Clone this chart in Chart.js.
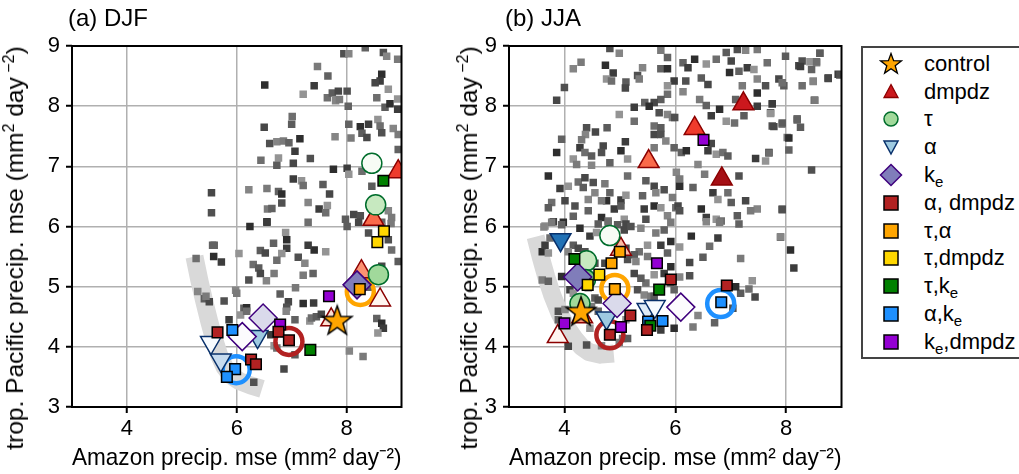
<!DOCTYPE html>
<html>
<head>
<meta charset="utf-8">
<script src="https://cdn.jsdelivr.net/npm/chart.js@4.4.1/dist/chart.umd.min.js"></script>
<style>
	body { margin: 0; width: 1019px; height: 474px; overflow: hidden; background: #fff; font-family: "Liberation Sans", Arial, sans-serif; }
	canvas { position: absolute; top: 0; }
	.ptitle { position: absolute; top: 4px; font-size: 24px; color: #000; }
	.ytitle { position: absolute; top: 248px; font-size: 24.5px; white-space: nowrap; transform: translate(-50%, -50%) rotate(-90deg); }
	.ytitle sup { font-size: 16px; line-height: 0; }
	#legend { position: absolute; left: 861px; top: 46px; width: 200px; height: 309px; border: 2px solid #444; }
	.row { position: absolute; left: 0; height: 28px; display: flex; align-items: center; font-size: 22px; }
	.row svg { position: absolute; left: 16px; }
	.row span { position: absolute; left: 61px; white-space: nowrap; }
	sub { font-size: 15px; vertical-align: -5px; line-height: 0; }
</style>
</head>
<body>
<canvas id="djf" width="420" height="474" style="left:0"></canvas>
<canvas id="jja" width="420" height="474" style="left:440px"></canvas>
<div class="ptitle" style="left:68px">(a) DJF</div>
<div class="ptitle" style="left:505px">(b) JJA</div>
<div class="ytitle" style="left:15px">trop. Pacific precip. mse (mm<sup>2</sup> day<sup> −2</sup>)</div>
<div class="ytitle" style="left:469px">trop. Pacific precip. mse (mm<sup>2</sup> day<sup> −2</sup>)</div>
<div id="legend"></div>
<script>
const xTicks = [4, 6, 8];
const yTicks = [3, 4, 5, 6, 7, 8, 9];

// ensemble members (grey squares), DJF
const djfEns = [
	[7.95,8.87],[8.04,8.87],[7.47,8.66],[7.66,8.50],[6.51,8.35],[7.41,8.34],[7.21,8.20],[7.65,8.14],[7.74,8.22],[7.85,8.25],
	[8.01,8.25],[7.80,8.09],[7.87,8.11],[8.03,8.00],[8.64,8.53],[8.61,8.42],[8.76,8.28],[8.55,8.14],[8.70,7.98],[8.52,8.39],
	[8.67,8.89],[8.73,8.83],[8.93,8.78],[8.34,8.97],[8.79,8.04],[8.93,7.95],[8.93,8.12],[7.01,7.83],[7.00,7.70],[6.50,7.65],
	[6.60,7.38],[6.73,7.41],[6.85,7.42],[6.95,7.39],[7.15,7.46],[7.06,7.25],[6.76,7.14],[6.44,7.10],[6.73,7.02],[7.03,7.05],
	[7.34,7.13],[7.79,7.49],[8.08,7.47],[8.04,7.70],[8.25,7.66],[8.40,7.70],[8.57,7.78],[8.61,7.67],[8.28,7.55],[8.37,7.48],
	[8.64,7.56],[8.85,7.63],[8.94,7.53],[8.94,7.28],[7.76,6.95],[8.01,6.97],[8.04,6.87],[8.28,6.92],[8.46,6.67],[5.54,6.56],
	[5.54,6.23],[6.22,6.61],[6.55,6.63],[6.76,6.58],[6.82,6.54],[7.03,6.79],[7.18,6.76],[7.21,6.68],[7.57,6.70],[7.69,6.54],
	[6.82,6.39],[7.30,6.40],[6.56,6.29],[6.64,6.30],[6.55,6.08],[7.50,6.29],[7.65,6.35],[7.62,6.23],[7.98,6.12],[8.13,6.20],
	[8.25,6.18],[8.76,6.26],[8.82,6.15],[8.64,6.07],[6.24,6.00],[6.55,6.07],[6.89,5.90],[7.30,6.07],[8.01,6.00],[8.22,6.07],
	[8.40,5.89],[8.64,6.00],[8.81,6.05],[5.59,5.69],[5.58,5.50],[5.72,5.41],[6.04,5.55],[6.30,5.37],[6.40,5.31],[6.43,5.22],
	[6.22,5.11],[6.54,5.10],[6.68,5.22],[6.67,5.72],[6.91,5.78],[6.91,5.64],[6.82,5.55],[6.73,5.44],[6.43,5.60],[6.52,5.56],
	[7.12,5.49],[7.24,5.39],[7.21,5.19],[7.39,5.22],[7.41,5.61],[7.30,5.69],[7.62,5.58],[5.26,5.47],[5.41,4.80],[5.50,4.75],
	[5.77,4.76],[5.98,4.94],[6.00,4.89],[6.13,4.64],[6.18,4.65],[5.86,4.45],[6.07,4.53],[6.18,4.59],[6.79,4.88],[6.94,4.75],
	[6.91,4.66],[6.90,4.59],[7.07,4.98],[7.06,4.45],[7.21,4.72],[7.40,4.73],[7.33,4.43],[7.36,4.48],[7.45,4.50],[7.54,4.54],
	[8.13,5.04],[8.16,5.03],[8.28,5.13],[8.41,4.99],[8.49,5.13],[6.62,4.20],[6.68,4.02],[6.73,3.98],[7.06,3.87],[6.86,3.63],
	[6.31,3.41],[8.05,3.93],[8.30,3.84],[8.55,4.47],[8.64,4.39],[8.67,4.31],[8.57,4.23],[8.82,5.61],[8.94,5.42],[8.64,5.34],
	[8.76,5.78],[5.29,4.92],[5.44,4.84],[5.56,5.69]
];

// ensemble members (grey squares), JJA
const jjaEns = [
	[4.82,8.96],[4.99,8.88],[5.74,8.93],[5.86,8.81],[4.74,8.68],[4.88,8.55],[4.76,8.45],[4.85,8.42],[5.11,8.40],[5.10,8.30],
	[5.32,8.51],[5.41,8.64],[5.35,8.45],[5.74,8.62],[5.86,8.62],[5.98,8.42],[5.86,8.34],[5.86,8.20],[5.74,8.11],[5.62,8.06],
	[5.71,7.89],[5.86,7.86],[5.95,7.81],[5.45,8.06],[5.53,8.00],[5.26,7.98],[4.99,7.86],[5.26,7.75],[4.77,7.64],[4.56,7.57],
	[4.40,7.64],[4.38,7.53],[4.31,7.44],[3.95,7.45],[3.86,7.23],[4.28,7.31],[4.16,7.12],[4.37,7.23],[4.49,7.17],[4.70,7.34],
	[4.67,7.23],[4.49,7.02],[4.22,7.03],[4.82,7.06],[5.02,7.26],[5.10,7.41],[5.14,7.12],[5.62,7.67],[5.74,7.64],[5.62,7.53],
	[5.74,7.53],[5.83,7.42],[5.62,7.31],[5.98,7.31],[3.71,6.84],[3.92,6.63],[4.07,6.67],[4.25,6.74],[4.34,6.65],[4.37,6.81],
	[4.52,6.73],[4.55,6.56],[4.73,6.71],[4.82,6.56],[4.76,6.43],[5.02,6.44],[5.11,6.52],[5.14,6.84],[5.47,6.76],[5.62,6.67],
	[5.80,6.61],[5.65,6.56],[5.95,6.48],[5.41,6.51],[5.62,6.34],[5.44,6.29],[5.74,6.31],[3.77,6.40],[3.71,6.31],[4.01,6.43],
	[4.19,6.34],[4.43,6.45],[4.67,6.43],[4.43,6.26],[4.67,6.15],[4.90,6.29],[5.08,6.12],[4.79,6.09],[4.61,6.04],[5.11,6.04],
	[5.47,6.12],[5.86,6.18],[5.92,6.07],[4.16,6.17],[3.98,6.07],[3.80,6.08],[3.65,6.01],[6.01,6.31],[5.02,6.34],[3.86,8.10],
	[4.00,8.31],[4.16,8.62],[4.30,8.73],
	[6.14,8.72],[6.35,8.78],[6.23,8.64],[6.56,8.70],[6.74,8.78],[6.92,8.89],[7.01,8.75],[7.12,8.94],[7.27,8.93],[7.48,8.94],
	[7.15,8.58],[6.98,8.56],[7.30,8.64],[7.42,8.61],[7.66,8.72],[7.99,8.83],[8.23,8.67],[8.29,8.75],[8.55,8.72],[8.61,8.88],
	[8.46,8.61],[8.76,8.47],[8.94,8.53],[8.49,8.42],[8.29,8.34],[7.96,8.34],[7.87,8.45],[7.63,8.34],[7.48,8.45],[7.21,8.34],
	[7.09,8.11],[7.48,8.22],[7.48,8.00],[7.75,8.03],[7.93,8.39],[6.47,8.47],[6.59,8.36],[6.19,8.42],[6.14,8.24],[6.44,8.11],
	[6.56,8.01],[6.80,7.95],[6.65,7.84],[6.92,7.75],[7.07,7.72],[7.24,7.84],[7.72,7.89],[7.75,7.67],[7.93,7.70],[8.02,7.48],
	[8.05,7.27],[7.69,7.23],[7.45,7.13],[7.63,7.09],[8.20,7.79],[8.26,7.65],[8.51,8.10],[8.46,6.94],[6.41,7.03],[6.53,6.87],
	[6.11,7.23],[6.20,7.26],[6.59,7.26],[6.74,7.20],[6.86,7.23],[6.95,7.17],[6.65,7.38],[5.99,7.81],[6.02,6.90],[6.08,6.79],
	[6.32,6.65],[6.08,6.67],[6.68,6.56],[6.77,6.45],[6.95,6.56],[7.01,6.40],[7.27,6.43],[7.15,6.84],[7.48,6.29],[7.36,6.26],
	[7.93,6.29],[6.47,6.29],[6.56,6.15],[6.74,6.12],[6.83,6.09],[7.12,6.18],[6.05,6.34],[6.08,6.26],
	[3.63,5.99],[3.77,6.07],[3.95,6.03],[4.28,5.97],[4.46,5.84],[4.58,5.90],[4.79,6.05],[4.96,6.03],[5.08,5.94],[5.20,6.00],
	[5.38,5.97],[5.65,5.89],[5.80,5.94],[5.92,5.75],[5.74,5.69],[5.50,5.69],[5.35,5.58],[5.26,5.53],[5.11,5.64],[5.14,5.45],
	[5.29,5.42],[5.50,5.50],[5.86,5.56],[5.92,5.33],[5.80,5.22],[5.62,5.20],[5.47,5.06],[5.38,5.14],[5.26,5.22],[5.32,4.95],
	[5.44,4.86],[5.56,4.84],[5.98,4.95],[3.60,5.58],[3.65,5.69],[3.71,5.56],[3.74,5.81],[4.16,5.69],[4.25,5.64],[4.37,5.58],
	[4.07,5.58],[3.60,5.11],[3.71,5.09],[3.95,5.17],[4.10,4.95],[4.16,4.89],[4.43,4.98],[4.55,4.81],[4.61,4.78],[3.89,4.59],
	[4.01,4.62],[4.49,4.67],[4.61,4.59],[4.96,4.78],[5.02,4.67],[5.11,4.45],[5.05,4.14],[5.14,4.14],[4.07,4.01],[4.40,4.03],
	[4.67,4.02],[4.99,4.07],[3.89,4.45],[5.98,4.31],[5.74,4.28],[4.46,4.31],[5.92,5.06],[5.62,4.84],[4.73,5.39],[4.55,5.39],
	[6.56,6.08],[6.80,6.07],[7.15,6.04],[6.29,5.84],[6.77,5.81],[6.08,5.66],[6.62,5.67],[6.50,5.49],[6.26,5.40],[6.26,5.18],
	[6.08,5.16],[7.18,5.47],[7.90,5.82],[8.08,5.61],[8.14,5.31],[7.39,5.10],[7.33,4.96],[7.18,4.89],[7.44,4.83],[7.04,4.64],
	[6.41,4.52],[6.32,4.33],[6.71,4.40],[7.09,5.00],
	[8.26,8.66],[8.43,8.74],[8.55,8.74],[8.61,8.88],[8.76,8.46],[8.97,8.52],[8.49,8.41],[8.52,8.10],[8.20,7.77],[8.05,7.47],
	[7.75,8.04],[7.72,7.88],[7.69,7.22],[7.93,7.72],[7.78,7.66],[7.93,6.28],[7.90,5.83]
];

// light grey guide curve
const djfBand = [[5.23,5.50],[5.32,5.10],[5.41,4.75],[5.50,4.42],[5.59,4.12],[5.68,3.86],[5.78,3.66],[5.90,3.52],[6.05,3.43],[6.25,3.36],[6.46,3.30]];
const jjaBand = [[3.48,5.83],[3.57,5.50],[3.67,5.17],[3.78,4.86],[3.91,4.56],[4.04,4.33],[4.18,4.14],[4.31,4.00],[4.45,3.91],[4.65,3.87],[4.89,3.89]];

// DJF experiments
const djfControl = [[7.83,4.44]];
const djfDmpdz = [[8.94,6.91],[8.49,6.12],[8.27,5.25],[8.61,4.78],[7.72,4.45]];
const djfTau = [[8.46,7.05],[8.53,6.36],[8.58,5.20]];
const djfAlpha = [[5.53,4.07],[5.71,3.78],[6.38,4.17]];
const djfKe = [[6.10,4.17],[6.48,4.48],[8.19,5.03]];
const djfAlphaDmpdz = [[5.65,4.24],[6.26,3.79],[6.35,3.71],[6.76,4.25],[6.95,4.11]];
const djfTauAlpha = [[8.24,4.96]];
const djfTauDmpdz = [[8.68,5.92],[8.56,5.74]];
const djfTauKe = [[7.34,3.95],[8.67,6.76]];
const djfAlphaKe = [[5.92,4.28],[5.97,3.63],[5.82,3.50]];
const djfKeDmpdz = [[6.79,4.37],[7.68,4.84]];
const djfRings = [[6.95,4.09],[5.99,3.62],[8.25,4.92]];

// JJA experiments
const jjaControl = [[4.30,4.59]];
const jjaDmpdz = [[7.23,8.04],[6.35,7.63],[5.52,7.08],[6.84,6.79],[5.02,5.62],[4.32,4.50],[3.88,4.17]];
const jjaTau = [[4.82,5.85],[4.40,5.43],[4.38,5.12],[4.28,4.72]];
const jjaAlpha = [[3.93,5.78],[4.76,4.48],[5.50,4.62],[5.63,4.67]];
const jjaKe = [[4.24,5.16],[4.95,4.72],[6.10,4.66]];
const jjaAlphaDmpdz = [[4.82,4.20],[5.19,4.52],[5.49,4.28],[5.92,5.12],[6.93,5.02]];
const jjaTauAlpha = [[5.00,5.58],[4.85,5.39],[4.91,4.96]];
const jjaTauDmpdz = [[4.63,5.20],[4.42,5.03]];
const jjaTauKe = [[4.18,5.46],[5.71,4.95],[5.55,4.35]];
const jjaAlphaKe = [[5.51,4.42],[5.77,4.43],[6.83,4.74]];
const jjaKeDmpdz = [[4.00,4.39],[5.02,4.33],[5.67,5.39],[6.51,7.44]];
const jjaRings = [[4.82,4.20],[6.82,4.72],[4.91,4.97]];

const legendLabels = ["control", "dmpdz", "τ", "α", "k<sub>e</sub>", "α, dmpdz", "τ,α", "τ,dmpdz", "τ,k<sub>e</sub>", "α,k<sub>e</sub>", "k<sub>e</sub>,dmpdz"];

// styles
const greys = ["#505050", "#6e6e6e", "#2e2e2e", "#858585", "#5c5c5c", "#3c3c3c", "#7a7a7a", "#474747", "#949494", "#626262"];
const comboColors = { aDm: "#b22222", tA: "#ffa500", tDm: "#ffd700", tKe: "#008000", aKe: "#1e90ff", keDm: "#9400d3" };
const ringColors = ["#b22222", "#1e90ff", "#ffa500"];
const fills = {
	djfDmpdz: ["#ef3b2c", "#fb6a4a", "#fc9272", "#fff5f0", "#fee0d2"],
	djfTau: ["#f7fcf5", "#c7e9c0", "#a1d99b"],
	djfAlpha: ["#f7fbff", "#c6dbef", "#9ecae1"],
	djfKe: ["#fcfbfd", "#dadaeb", "#807dba"],
	jjaDmpdz: ["#cb181d", "#ef3b2c", "#fb6a4a", "#a50f15", "#fcbba1", "#fc9272", "#fff5f0"],
	jjaTau: ["#f7fcf5", "#c7e9c0", "#74c476", "#a1d99b"],
	jjaAlpha: ["#2171b5", "#9ecae1", "#deebf7", "#f7fbff"],
	jjaKe: ["#807dba", "#dadaeb", "#fcfbfd"],
};

Chart.defaults.font.family = "'Liberation Sans', Arial, sans-serif";
Chart.defaults.color = "#000";

// filled star marker
function makeStar(size) {
	const c = document.createElement("canvas");
	c.width = size; c.height = size;
	const g = c.getContext("2d");
	const cx = size / 2, cy = size / 2 + 1, ro = size / 2 - 1.5, ri = ro * 0.4;
	g.beginPath();
	for (let i = 0; i < 10; i++) {
		const r = i % 2 ? ri : ro;
		const a = -Math.PI / 2 + i * Math.PI / 5;
		g.lineTo(cx + r * Math.cos(a), cy + r * Math.sin(a));
	}
	g.closePath();
	g.fillStyle = "#ffa500"; g.fill();
	g.lineWidth = 1.5; g.strokeStyle = "#000"; g.stroke();
	return c;
}
const starImg = makeStar(34);

const toPts = (arr) => arr.map((p) => ({ x: p[0], y: p[1] }));

const framePlugin = {
	id: "frame",
	afterDatasetsDraw(chart) {
		const { ctx, chartArea: a } = chart;
		ctx.save();
		ctx.strokeStyle = "#000";
		ctx.lineWidth = 2;
		ctx.strokeRect(a.left, a.top, a.right - a.left, a.bottom - a.top);
		ctx.restore();
	},
};

function markerSet(pts, style, bg, border, radius, order, extra) {
	return Object.assign({
		data: toPts(pts), pointStyle: style, backgroundColor: bg, borderColor: border,
		pointRadius: radius, pointBorderWidth: 1.5, showLine: false, order: order, clip: 0,
	}, extra || {});
}

function makePanel(id, d, axisW, padRight) {
	const datasets = [
		markerSet(d.control, starImg, "#ffa500", "#000", 17, 0),
		markerSet(d.aDm, "rect", comboColors.aDm, "#000", 7.5, 1),
		markerSet(d.tA, "rect", comboColors.tA, "#000", 7.5, 1),
		markerSet(d.tDm, "rect", comboColors.tDm, "#000", 7.5, 1),
		markerSet(d.tKe, "rect", comboColors.tKe, "#000", 7.5, 1),
		markerSet(d.aKe, "rect", comboColors.aKe, "#000", 7.5, 1),
		markerSet(d.keDm, "rect", comboColors.keDm, "#000", 7.5, 1),
		markerSet(d.ke, "rectRot", d.keFill, "#3f007d", 14, 2),
		markerSet(d.alpha, "triangle", d.alphaFill, "#08306b", 12, 2, { rotation: 180 }),
		markerSet(d.tau, "circle", d.tauFill, "#006d2c", 10, 2),
		markerSet(d.dmpdz, "triangle", d.dmpdzFill, "#8b0000", 12, 2),
		markerSet(d.rings, "circle", "rgba(0,0,0,0)", ringColors, 13.5, 3, { pointBorderWidth: 4.5 }),
		markerSet(d.ens, "rect", d.ens.map((p, i) => greys[(i * 3) % greys.length]), "rgba(0,0,0,0)", 5.3, 4, { pointBorderWidth: 0 }),
		{
			data: toPts(d.band), showLine: true, borderColor: "#d9d9d9", borderWidth: 18,
			pointRadius: 0, tension: 0, fill: false, order: 5, clip: 0,
			borderCapStyle: "butt", borderJoinStyle: "round",
		},
	];
	new Chart(document.getElementById(id), {
		type: "scatter",
		data: { datasets: datasets },
		options: {
			responsive: false,
			animation: false,
			layout: { padding: { top: 46, right: padRight, left: 0, bottom: 0 } },
			plugins: { legend: { display: false }, tooltip: { enabled: false } },
			scales: {
				x: {
					type: "linear", min: 3, max: 9,
					afterBuildTicks: (s) => { s.ticks = xTicks.map((v) => ({ value: v })); },
					afterFit: (s) => { s.height = 67; },
					ticks: { font: { size: 22 }, padding: 3 },
					grid: { color: "#b0b0b0", lineWidth: 1.5, tickColor: "#000", tickLength: 6, tickWidth: 2 },
					border: { display: false },
					title: { display: true, text: "Amazon precip. mse (mm² day⁻²)", font: { size: 24 }, padding: { top: 0, bottom: 1 } },
				},
				y: {
					type: "linear", min: 3, max: 9,
					afterBuildTicks: (s) => { s.ticks = yTicks.map((v) => ({ value: v })); },
					afterFit: (s) => { s.width = axisW; },
					ticks: { font: { size: 22 }, padding: 6 },
					grid: { color: "#b0b0b0", lineWidth: 1.5, tickColor: "#000", tickLength: 6, tickWidth: 2 },
					border: { display: false },
					title: { display: false },
				},
			},
		},
		plugins: [framePlugin],
	});
}

makePanel("djf", {
	ens: djfEns, band: djfBand, control: djfControl, rings: djfRings,
	dmpdz: djfDmpdz, dmpdzFill: fills.djfDmpdz, tau: djfTau, tauFill: fills.djfTau,
	alpha: djfAlpha, alphaFill: fills.djfAlpha, ke: djfKe, keFill: fills.djfKe,
	aDm: djfAlphaDmpdz, tA: djfTauAlpha, tDm: djfTauDmpdz, tKe: djfTauKe, aKe: djfAlphaKe, keDm: djfKeDmpdz,
}, 72, 13);

makePanel("jja", {
	ens: jjaEns, band: jjaBand, control: jjaControl, rings: jjaRings,
	dmpdz: jjaDmpdz, dmpdzFill: fills.jjaDmpdz, tau: jjaTau, tauFill: fills.jjaTau,
	alpha: jjaAlpha, alphaFill: fills.jjaAlpha, ke: jjaKe, keFill: fills.jjaKe,
	aDm: jjaAlphaDmpdz, tA: jjaTauAlpha, tDm: jjaTauDmpdz, tKe: jjaTauKe, aKe: jjaAlphaKe, keDm: jjaKeDmpdz,
}, 69, 15);

// legend (HTML, markers as small svg)
const legendMarkers = [
	'<polygon points="12,1.5 14.6,8.6 22.3,8.9 16.2,13.7 18.4,21.1 12,16.8 5.6,21.1 7.8,13.7 1.7,8.9 9.4,8.6" fill="#ffa500" stroke="#000" stroke-width="1.3"/>',
	'<polygon points="12,4.5 19,17.5 5,17.5" fill="#cb181d" stroke="#8b0000" stroke-width="1.3"/>',
	'<circle cx="12" cy="12" r="7" fill="#a1d99b" stroke="#006d2c" stroke-width="1.5"/>',
	'<polygon points="5,6 19,6 12,19" fill="#9ecae1" stroke="#08306b" stroke-width="1.5"/>',
	'<polygon points="12,1.5 22.5,12 12,22.5 1.5,12" fill="#807dba" stroke="#3f007d" stroke-width="1.5"/>',
	'<rect x="5" y="5" width="14" height="14" fill="#b22222" stroke="#000" stroke-width="1.5"/>',
	'<rect x="5" y="5" width="14" height="14" fill="#ffa500" stroke="#000" stroke-width="1.5"/>',
	'<rect x="5" y="5" width="14" height="14" fill="#ffd700" stroke="#000" stroke-width="1.5"/>',
	'<rect x="5" y="5" width="14" height="14" fill="#008000" stroke="#000" stroke-width="1.5"/>',
	'<rect x="5" y="5" width="14" height="14" fill="#1e90ff" stroke="#000" stroke-width="1.5"/>',
	'<rect x="5" y="5" width="14" height="14" fill="#9400d3" stroke="#000" stroke-width="1.5"/>',
];
const legendEl = document.getElementById("legend");
legendLabels.forEach((lab, i) => {
	const row = document.createElement("div");
	row.className = "row";
	row.style.top = (1.7 + i * 27.8) + "px";
	row.innerHTML = '<svg width="24" height="24" viewBox="0 0 24 24">' + legendMarkers[i] + "</svg><span>" + lab + "</span>";
	legendEl.appendChild(row);
});
</script>
</body>
</html>
